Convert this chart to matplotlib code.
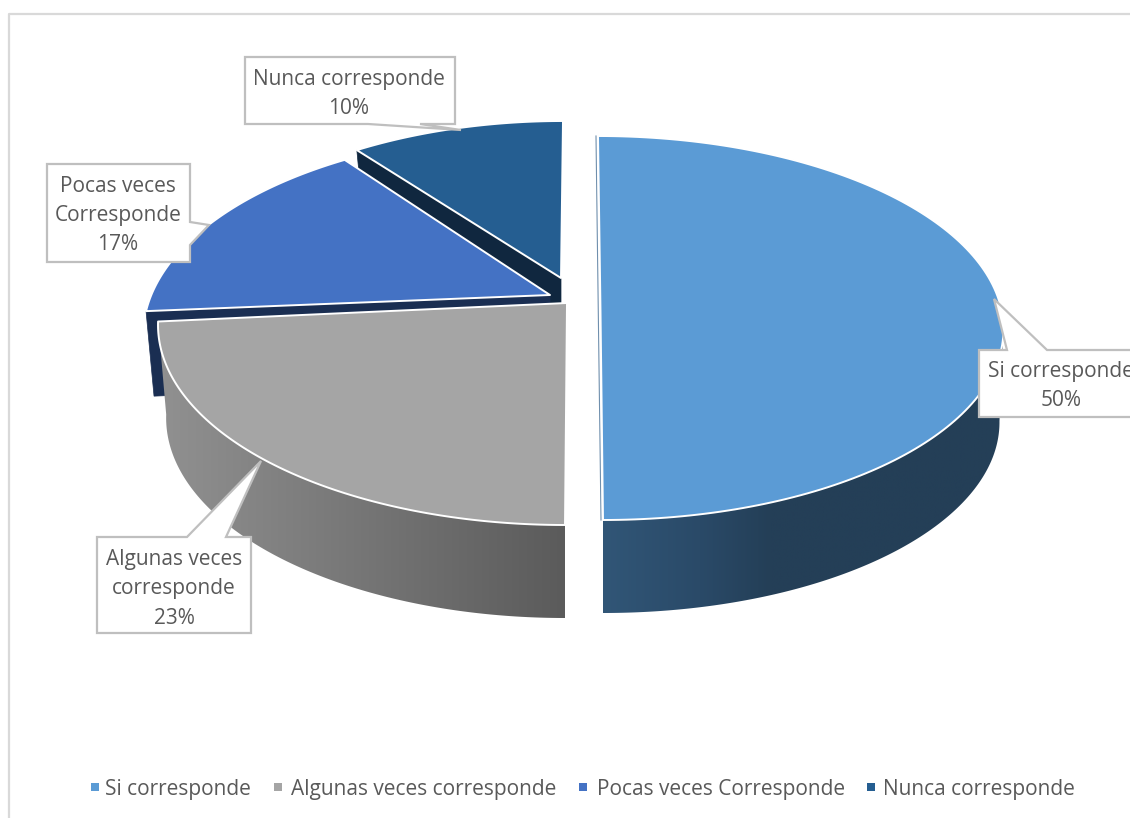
import numpy as np
import matplotlib
matplotlib.use("Agg")
import matplotlib.pyplot as plt
from matplotlib.patches import Polygon, Rectangle
from matplotlib.colors import to_rgb

categories = ["Si corresponde", "Algunas veces corresponde", "Pocas veces Corresponde", "Nunca corresponde"]
values = [50, 23, 17, 10]
label_lines = [["Si corresponde", "50%"],
               ["Algunas veces", "corresponde", "23%"],
               ["Pocas veces", "Corresponde", "17%"],
               ["Nunca corresponde", "10%"]]
top_colors = ["#5B9BD5", "#A5A5A5", "#4472C4", "#255E91"]

plt.rcParams['font.family'] = ['Open Sans', 'DejaVu Sans']
W, H = 1130, 818
fig = plt.figure(figsize=(W/100, H/100), dpi=100)
ax = fig.add_axes([0, 0, 1, 1])
ax.set_xlim(0, W); ax.set_ylim(H, 0); ax.axis('off')

# layout of each exploded slice in pixels: apex, arc centre, radii
apex = [(600.5, 311), (567, 303), (550, 295), (561, 278)]
centre = [(600.5, 328), (565, 325), (550, 336), (563, 330)]
radii = [(403, 192), (407, 200), (407, 204), (405, 209)]
shear = [-2.5, 0, 0, 0]
depth = [93, 93, 85, 85]
wall_rx = [0.99, 0.98, 1.0, 1.0]
# perspective correction of each slice's angles (start, end), in degrees
angle_shift = [(0, 0), (0, 8.2), (14.2, 5.7), (5.4, 0)]
TEXT = "#595959"
BORDER = "#BFBFBF"
FS = 15

cum = np.concatenate([[0], np.cumsum(values)]) / np.sum(values) * 360

def arc(i, t, dy=0, scale=1.0):
    t = np.asarray(t, float)
    f = (t - cum[i]) / (cum[i+1] - cum[i])
    a = np.radians(t + angle_shift[i][0] + f*(angle_shift[i][1] - angle_shift[i][0]))
    cx, cy = centre[i]; rx, ry = radii[i]
    x = cx + rx*scale*np.sin(a) + shear[i]*np.cos(a)
    y = cy - ry*np.cos(a) + dy
    return x, y

def top(i, z):
    t = np.linspace(cum[i], cum[i+1], 160)
    x, y = arc(i, t)
    pts = np.column_stack([np.r_[apex[i][0], x], np.r_[apex[i][1], y]])
    ax.add_patch(Polygon(pts, closed=True, fc=top_colors[i], ec="white", lw=1.4, joinstyle='round', zorder=z))

def wall(i, t0, t1, xs, cols, z):
    # Outer rim: horizontal gradient image clipped to the rim outline
    t = np.linspace(t0, t1, 220)
    xa, ya = arc(i, t)
    xb, yb = arc(i, t, dy=depth[i], scale=wall_rx[i])
    outline = np.column_stack([np.r_[xa, xb[::-1]], np.r_[ya, yb[::-1]]])
    patch = Polygon(outline, closed=True, fc='none', ec='none', transform=ax.transData)
    ax.add_patch(patch)
    rgb = np.array([to_rgb(c) for c in cols])
    grid = np.linspace(outline[:, 0].min(), outline[:, 0].max(), 512)
    img = np.stack([np.interp(grid, xs, rgb[:, k]) for k in range(3)], axis=-1)[None, :, :]
    im = ax.imshow(img, extent=[grid[0], grid[-1], outline[:, 1].max(), outline[:, 1].min()],
                   aspect='auto', zorder=z, interpolation='bilinear')
    im.set_clip_path(patch)

def radial_side(i, angle, color, z):
    x, y = arc(i, [angle])
    ax_, ay_ = apex[i]
    d = depth[i]
    q = [(x[0], y[0]), (ax_, ay_), (ax_, ay_+d), (x[0]+8, y[0]+d)]
    ax.add_patch(Polygon(q, closed=True, fc=color, ec=color, lw=0.5, zorder=z))

# frame
ax.plot([8.5, 8.5, W], [H, 13.5, 13.5], color="#D9D9D9", lw=1.6, zorder=0)

# back to front
radial_side(3, cum[3], "#10273F", 1)
top(3, 2)
radial_side(2, cum[2], "#1A2E52", 3)
top(2, 4)
wall(1, 180, cum[2], [165, 565], ["#909090", "#5B5B5B"], 5)
top(1, 6)
wall(0, 90, 180, [603, 700, 770, 1000], ["#315677", "#2A4A68", "#243F57", "#243F57"], 7)
xe, ye = arc(0, [0, 180])
ax.plot(xe - 2, ye, color="#6F8FAD", lw=0.8, zorder=7.5)
top(0, 8)

# callouts
boxes = [(979, 350, 1160, 417), (97, 537, 251, 633), (47, 164, 190, 262), (245, 57, 455, 124)]
pointers = [
    [(1007, 350), (994, 299), (1047, 350)],
    [(187, 537), (261, 461), (226, 537)],
    [(190, 222), (209, 225), (190, 245)],
    [(368, 124), (461, 130), (420, 124)],
]
def callout(i):
    x0, y0, x1, y1 = boxes[i]
    p = pointers[i]
    if i in (0, 1):      # pointer on the top side
        pts = [(x0, y0), p[0], p[1], p[2], (x1, y0), (x1, y1), (x0, y1)]
    elif i == 2:         # pointer on the right side
        pts = [(x0, y0), (x1, y0), p[0], p[1], p[2], (x1, y1), (x0, y1)]
    else:                # pointer on the bottom side
        pts = [(x0, y0), (x1, y0), (x1, y1), p[2], p[1], p[0], (x0, y1)]
    ax.add_patch(Polygon(pts, closed=True, fc="white", ec=BORDER, lw=1.6, zorder=10))

label_cx = [1061, 174, 118, 349]
label_y0 = [371, 559, 186, 79]
for i in range(4):
    callout(i)
    for k, line in enumerate(label_lines[i]):
        ax.text(label_cx[i], label_y0[i] + 29.5*k, line, ha='center', va='center',
                fontsize=FS, color=TEXT, zorder=11, clip_on=True)

# legend
sq_x = [95, 278, 583, 871]
tx_x = [105, 291, 597, 883]
for i, name in enumerate(categories):
    ax.add_patch(Rectangle((sq_x[i]-4, 783), 8, 8, fc=top_colors[i], ec='none', zorder=11))
    ax.text(tx_x[i], 789, name, ha='left', va='center', fontsize=FS, color=TEXT, zorder=11)

ax.set_xlim(0, W); ax.set_ylim(H, 0)
fig.savefig("out.png", dpi=100)
